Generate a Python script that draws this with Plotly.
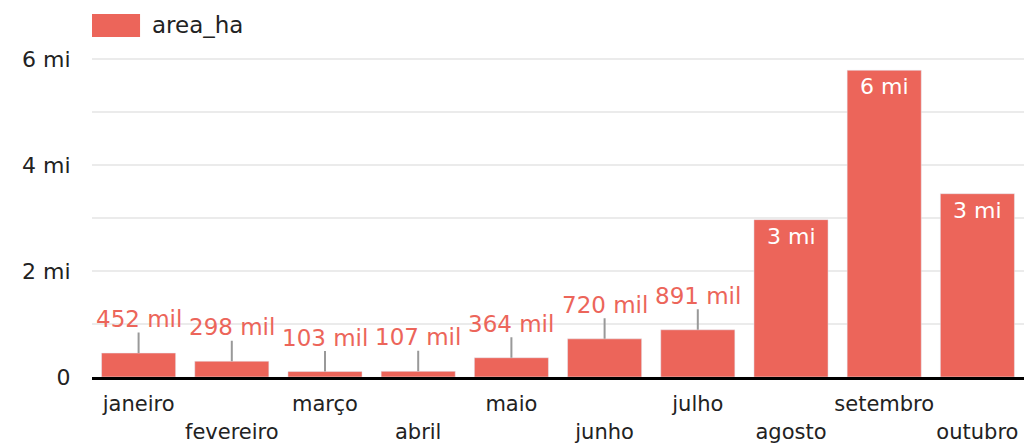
import plotly.graph_objects as go

meses = ["janeiro", "fevereiro", "março", "abril", "maio", "junho",
         "julho", "agosto", "setembro", "outubro"]
area_ha = [452000, 298000, 103000, 107000, 364000, 720000, 891000,
           2970000, 5790000, 3460000]
y_tickvals = [0, 2e6, 4e6, 6e6]
y_ticktext = ["0", "2 mi", "4 mi", "6 mi"]
series_name = "area_ha"

BAR = "#EC655A"
FONT = "DejaVu Sans"
Y_MAX = 6.04e6
PLOT_TOP = 57  # pixel of plot top
PLOT_BOT = 377
PH = PLOT_BOT - PLOT_TOP


def fmt(v):
    if v >= 1e6:
        return f"{round(v / 1e6)} mi"
    return f"{round(v / 1e3)} mil"


ticktext = [m if i % 2 == 0 else "<br>" + m for i, m in enumerate(meses)]

fig = go.Figure()
fig.add_trace(go.Bar(x=meses, y=area_ha, marker_color=BAR, name=series_name,
                     showlegend=False, hoverinfo="x+y"))

annotations = []
for m, v in zip(meses, area_ha):
    if v >= 1e6:
        annotations.append(dict(x=m, y=v, text=fmt(v), showarrow=False,
                                yanchor="top", yshift=-3, borderpad=0,
                                font=dict(family=FONT, size=22, color="white")))
    else:
        annotations.append(dict(x=m, y=v, text=fmt(v), showarrow=True,
                                arrowhead=0, arrowwidth=2, arrowcolor="#999999",
                                ax=0, ay=-34, borderpad=0, standoff=0,
                                font=dict(family=FONT, size=23, color=BAR)))

# legend replica
annotations.append(dict(xref="paper", yref="paper", x=58 / 931,
                        y=(PLOT_BOT - 25) / PH,
                        text=series_name, showarrow=False, xanchor="left",
                        yanchor="middle",
                        font=dict(family=FONT, size=23, color="#222222")))

fig.update_layout(
    width=1026, height=444,
    margin=dict(l=92, r=2, t=PLOT_TOP, b=444 - PLOT_BOT, autoexpand=False),
    paper_bgcolor="white", plot_bgcolor="white",
    bargap=0.205,
    font=dict(family=FONT, size=21, color="#222222"),
    annotations=annotations,
    shapes=[dict(type="rect", xref="paper", yref="paper",
                 x0=0, x1=48 / 931, y0=(PLOT_BOT - 37) / PH,
                 y1=(PLOT_BOT - 14) / PH,
                 fillcolor=BAR, line=dict(width=0), layer="above")],
    xaxis=dict(tickvals=meses, ticktext=ticktext, showline=True,
               linecolor="black", linewidth=3, ticks="outside",
               ticklen=6, tickcolor="rgba(0,0,0,0)",
               tickfont=dict(family=FONT, size=21, color="#222222"),
               showgrid=False, fixedrange=True, automargin=False),
    yaxis=dict(range=[0, Y_MAX], tickvals=y_tickvals, ticktext=y_ticktext,
               showgrid=True, gridcolor="#EBEBEB", gridwidth=2,
               minor=dict(dtick=1e6, showgrid=True, gridcolor="#EBEBEB",
                          gridwidth=2),
               zeroline=False, ticks="outside", ticklen=16,
               tickcolor="rgba(0,0,0,0)", automargin=False,
               tickfont=dict(family=FONT, size=22, color="#222222")),
)

fig.write_html("out.html", config={"displayModeBar": False},
               post_script="document.body.style.margin='0';"
                           "document.body.style.overflow='hidden';")
